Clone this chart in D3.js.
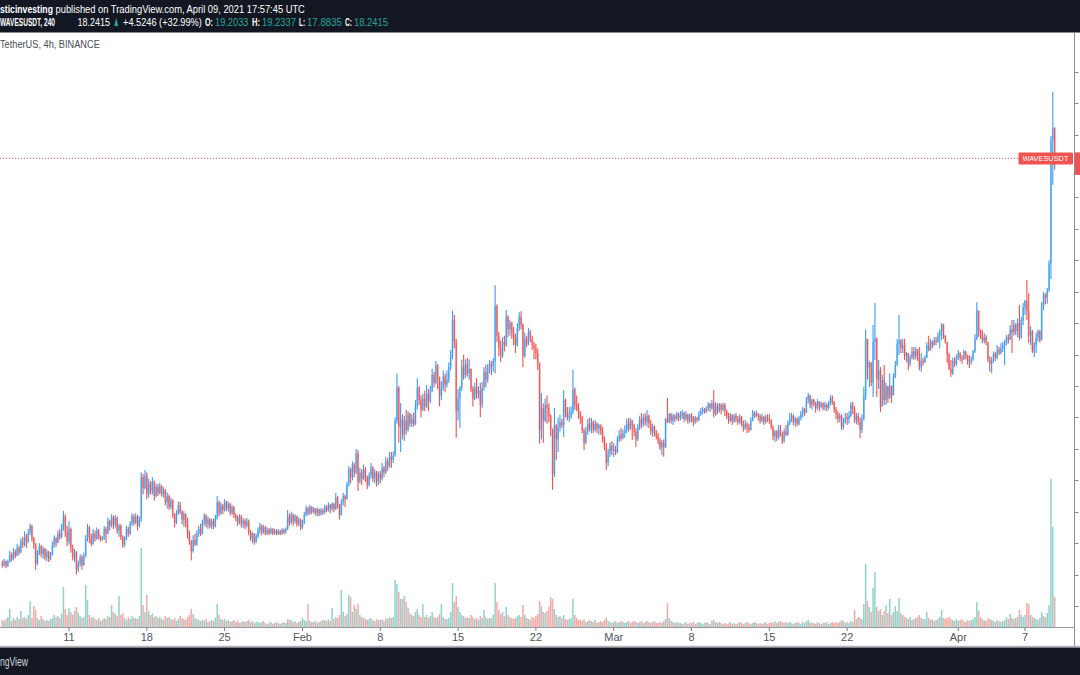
<!DOCTYPE html>
<html>
<head>
<meta charset="utf-8">
<script src="https://d3js.org/d3.v7.min.js"></script>
<style>
  html, body { margin: 0; padding: 0; background: #fff; overflow: hidden; }
</style>
</head>
<body>
<div id="chart"></div>
<script>
// WAVESUSDT 4h candles, Binance, 5 Jan 2021 00:00 UTC -> 9 Apr 2021 16:00 UTC
const startTime = Date.UTC(2021, 0, 5, 0);
const firstOpen = 5.35;

// one line per day, six 4h candles each
const janClose = [
  5.30,5.42,5.28,5.40,5.62,5.50,
  5.72,5.60,5.85,5.70,6.05,5.95,
  6.20,6.05,6.35,6.55,6.15,5.95,
  5.35,5.70,5.90,5.65,5.82,5.55,
  5.72,5.50,5.65,5.95,6.15,6.00,
  6.30,6.20,6.55,6.85,6.35,6.05,
  6.45,5.85,5.55,5.70,5.15,5.35,
  5.55,5.30,5.60,6.15,6.50,6.20,
  5.98,6.30,6.15,6.40,6.20,6.12,
  6.18,6.45,6.30,6.70,6.55,6.82,
  6.60,6.80,6.40,6.55,6.20,5.95,
  6.15,6.45,6.30,6.62,6.85,6.65,
  6.85,6.55,6.75,8.10,7.75,8.15,
  7.55,7.90,7.65,7.95,7.50,7.80,
  7.60,7.82,7.55,7.70,7.30,7.50,
  7.15,7.35,6.90,6.65,6.95,7.20,
  7.00,6.75,6.92,6.60,6.25,6.05,
  5.75,6.10,5.95,6.30,6.45,6.30,
  6.65,6.88,6.60,6.75,6.55,6.70,
  6.55,6.80,7.30,6.95,7.20,7.05,
  7.30,7.10,7.25,6.95,7.15,6.90,
  6.80,6.65,6.85,6.60,6.72,6.55,
  6.70,6.35,6.15,6.30,6.05,6.22,
  6.40,6.55,6.35,6.50,6.30,6.42,
  6.32,6.45,6.30,6.40,6.28,6.38,
  6.30,6.42,6.35,6.45,6.85,6.65,
  6.90,6.70,6.85,6.60,6.75,6.50
];
const janHigh = [
  5.45,5.50,5.45,5.48,5.75,5.70,
  5.85,5.80,5.98,5.92,6.15,6.20,
  6.38,6.30,6.45,6.62,6.58,6.20,
  6.00,5.78,6.00,5.95,5.90,5.85,
  5.80,5.75,5.72,6.05,6.25,6.20,
  6.40,6.45,6.62,7.02,6.92,6.55,
  6.70,6.50,5.95,5.82,5.75,5.45,
  5.65,5.62,5.70,6.25,6.62,6.55,
  6.30,6.45,6.40,6.50,6.45,6.25,
  6.22,6.55,6.52,6.82,6.75,6.92,
  6.88,6.90,6.85,6.62,6.60,6.25,
  6.22,6.55,6.52,6.70,6.95,6.92,
  6.95,6.90,6.85,8.25,8.20,8.33,
  8.25,8.05,7.98,8.10,8.00,7.90,
  7.88,7.92,7.85,7.78,7.72,7.62,
  7.55,7.45,7.40,6.95,7.05,7.32,
  7.32,7.05,7.02,6.95,6.80,6.40,
  6.10,6.25,6.30,6.40,6.55,6.62,
  6.75,6.95,6.92,6.85,6.80,6.78,
  6.78,6.90,7.50,7.35,7.30,7.25,
  7.40,7.35,7.32,7.28,7.22,7.18,
  6.95,6.88,6.92,6.90,6.80,6.78,
  6.80,6.75,6.42,6.35,6.32,6.30,
  6.50,6.65,6.60,6.58,6.55,6.50,
  6.48,6.50,6.48,6.46,6.44,6.45,
  6.42,6.48,6.46,6.50,7.06,6.95,
  7.00,6.95,6.92,6.88,6.82,6.78
];
const janLow = [
  5.22,5.25,5.20,5.24,5.38,5.42,
  5.45,5.52,5.58,5.62,5.68,5.85,
  5.90,5.85,6.00,6.25,6.05,5.82,
  5.15,5.30,5.62,5.55,5.50,5.45,
  5.42,5.40,5.45,5.60,5.85,5.88,
  6.05,6.10,6.15,6.40,6.20,5.90,
  5.95,5.70,5.45,5.40,5.00,5.08,
  5.25,5.15,5.28,5.55,6.05,6.00,
  5.90,5.95,6.05,6.10,6.12,6.05,
  6.08,6.10,6.00,6.28,6.40,6.50,
  6.45,6.50,6.30,6.20,6.10,5.85,
  5.88,6.10,6.20,6.25,6.55,6.55,
  6.60,6.40,6.50,6.68,7.55,7.70,
  7.40,7.45,7.55,7.55,7.35,7.45,
  7.50,7.55,7.48,7.45,7.20,7.10,
  7.05,7.08,6.80,6.50,6.60,6.90,
  6.92,6.60,6.52,6.50,6.15,5.95,
  5.45,5.70,5.90,5.92,6.20,6.22,
  6.28,6.55,6.50,6.45,6.48,6.45,
  6.45,6.50,6.75,6.85,6.90,6.92,
  7.00,7.02,7.00,6.88,6.90,6.80,
  6.70,6.55,6.60,6.50,6.48,6.45,
  6.50,6.25,6.08,6.00,5.95,6.00,
  6.15,6.30,6.25,6.30,6.25,6.26,
  6.25,6.28,6.25,6.27,6.25,6.26,
  6.25,6.27,6.28,6.30,6.42,6.55,
  6.60,6.55,6.62,6.52,6.55,6.42
];
const janVolume = [
  420,360,480,600,1080,360,
  540,420,600,480,960,540,
  600,480,720,1560,540,1260,
  1020,540,420,660,480,360,
  420,360,480,540,720,600,
  660,540,780,2400,1080,720,
  1140,900,720,960,1200,840,
  660,540,600,2520,1620,720,
  540,600,480,420,540,360,
  420,540,480,660,600,1320,
  900,780,660,1860,720,840,
  540,420,600,480,660,540,
  540,480,660,4740,1320,900,
  1920,960,720,840,600,660,
  540,600,480,420,660,540,
  600,480,420,540,360,480,
  660,540,480,420,600,720,
  1080,780,540,480,420,360,
  420,360,480,300,360,420,
  360,540,1380,720,480,420,
  480,360,420,300,360,420,
  300,360,240,300,360,300,
  360,420,300,360,240,300,
  300,240,300,360,240,180,
  240,300,180,240,300,240,
  180,240,300,240,480,420,
  420,300,360,240,300,360
];

const febClose = [
  6.65,6.90,7.10,6.95,7.15,7.00,
  7.10,6.95,7.08,6.92,7.05,6.98,
  7.15,7.05,7.22,7.10,7.25,7.08,
  7.45,7.20,6.90,7.30,7.50,7.40,
  7.85,8.35,8.10,8.50,8.25,8.85,
  7.95,8.25,8.05,8.35,8.10,7.85,
  8.15,8.40,8.05,8.25,7.95,8.20,
  8.05,8.40,8.25,8.60,8.45,8.75,
  8.65,8.80,9.90,10.95,9.70,9.95,
  9.45,9.90,9.60,10.10,9.80,9.95,
  9.80,10.35,10.95,10.55,10.25,10.60,
  10.35,10.75,10.50,10.85,11.35,11.10,
  11.65,11.25,10.70,10.95,11.30,11.05,
  11.20,11.60,11.95,13.10,12.40,10.20,
  10.60,10.95,11.60,11.35,11.70,11.40,
  11.55,10.90,10.60,10.95,10.75,10.85,
  10.40,10.95,11.45,11.20,11.55,11.70,
  11.65,11.80,13.55,12.60,12.20,11.95,
  12.40,12.30,13.20,12.80,13.00,12.70,
  12.55,12.30,12.85,13.20,12.95,11.95,
  12.50,12.35,12.70,12.50,12.30,12.20,
  12.05,11.70,9.60,10.30,9.90,10.40,
  10.30,10.05,9.60,8.20,9.75,9.30,
  9.70,9.85,9.75,10.55,10.15,10.00,
  10.05,10.20,10.90,10.40,10.30,10.15,
  10.00,9.60,9.20,9.55,9.80,9.65,
  9.85,9.60,9.80,9.65,9.75,9.55,
  9.30,9.05,8.55,8.85,9.10,8.95
];
const febHigh = [
  6.74,7.00,7.20,7.15,7.22,7.18,
  7.15,7.12,7.14,7.10,7.12,7.10,
  7.22,7.20,7.30,7.25,7.30,7.28,
  7.60,7.50,7.25,7.40,7.60,7.55,
  7.95,8.45,8.40,8.60,8.55,9.00,
  8.96,8.40,8.35,8.50,8.42,8.15,
  8.25,8.55,8.45,8.35,8.30,8.28,
  8.30,8.55,8.45,8.75,8.70,8.90,
  8.90,8.92,10.00,11.40,11.00,10.46,
  10.10,10.05,10.24,10.20,10.15,10.10,
  10.15,10.55,11.25,11.00,10.70,10.75,
  10.85,11.03,10.90,11.00,11.55,11.45,
  11.80,11.70,11.30,11.15,11.50,11.40,
  11.50,11.75,12.15,13.40,13.26,12.50,
  10.90,11.00,11.83,12.00,11.85,11.90,
  11.85,11.51,11.00,11.10,11.25,11.00,
  11.10,11.13,11.60,11.67,11.70,11.83,
  11.80,11.90,14.21,13.60,12.72,12.45,
  12.55,12.60,13.42,13.25,13.10,13.05,
  12.88,12.65,13.00,13.35,13.38,13.00,
  12.70,12.60,12.85,12.78,12.60,12.40,
  12.35,12.20,11.75,10.78,10.45,10.60,
  10.70,10.45,10.10,9.65,10.30,9.80,
  10.00,10.08,9.95,10.87,10.60,10.33,
  10.33,10.35,11.51,10.95,10.70,10.46,
  10.20,10.05,9.65,9.70,9.95,10.00,
  9.98,9.90,9.92,9.85,9.80,9.78,
  9.70,9.40,9.19,9.00,9.20,9.25
];
const febLow = [
  6.45,6.60,6.85,6.88,6.90,6.92,
  6.95,6.88,6.85,6.86,6.88,6.90,
  6.92,6.98,7.00,6.95,7.02,6.98,
  7.05,7.10,6.75,6.88,7.20,7.15,
  7.38,7.80,7.90,8.00,8.10,8.20,
  7.66,7.90,7.85,8.00,7.95,7.72,
  7.80,8.05,7.95,7.90,7.80,7.85,
  7.90,8.00,8.10,8.20,8.30,8.40,
  8.40,8.55,8.75,9.80,9.20,8.90,
  9.30,9.25,9.45,9.55,9.70,9.70,
  9.70,9.75,10.25,10.40,10.00,10.20,
  10.20,10.30,10.20,10.45,10.80,10.95,
  11.05,10.90,10.35,10.55,10.85,10.80,
  10.95,11.10,11.50,11.85,12.20,9.35,
  9.90,9.66,10.85,11.20,11.25,11.30,
  11.20,10.80,10.35,10.55,10.60,10.60,
  10.01,10.30,10.85,10.95,11.10,11.40,
  11.35,11.45,11.40,12.40,11.95,11.76,
  11.90,12.10,12.25,12.56,12.60,12.50,
  12.30,12.05,12.25,12.75,12.80,11.60,
  11.90,12.24,12.30,12.40,12.15,11.85,
  11.85,11.51,9.16,9.30,9.19,9.85,
  9.80,9.85,9.40,7.70,8.10,8.65,
  8.90,9.55,9.65,9.38,10.00,9.90,
  9.85,9.95,10.10,10.24,10.20,9.95,
  9.80,9.50,8.96,9.15,9.45,9.55,
  9.50,9.50,9.55,9.50,9.45,9.45,
  9.20,8.95,8.33,8.45,8.74,8.80
];
const febVolume = [
  540,420,360,1380,360,300,
  300,360,240,300,360,420,
  420,360,480,360,1140,480,
  600,540,720,2220,900,660,
  780,1920,1800,900,1320,1080,
  1380,720,600,540,480,420,
  480,540,420,360,480,420,
  420,480,360,540,480,600,
  540,600,2820,2580,2100,1680,
  1680,1860,1500,1140,840,720,
  660,900,1080,720,600,1380,
  600,720,540,660,900,600,
  540,600,780,1380,600,480,
  480,540,900,2640,1500,1860,
  1200,900,720,660,540,600,
  540,720,600,480,540,420,
  660,540,1020,600,480,540,
  540,720,2640,1500,1020,780,
  900,660,1200,720,600,540,
  480,540,660,720,600,1320,
  720,540,480,420,600,540,
  660,780,1560,1260,900,840,
  960,1200,1800,1680,1080,720,
  600,660,540,720,480,420,
  480,540,1680,720,540,420,
  420,360,480,300,360,420,
  360,300,420,240,300,360,
  300,420,540,360,300,240
];

const marClose = [
  9.00,8.90,9.30,9.45,9.35,9.50,
  9.60,9.80,9.65,9.90,9.75,9.55,
  9.30,9.70,9.95,9.80,10.00,9.85,
  10.05,9.80,9.55,9.70,9.50,9.40,
  9.25,9.05,9.20,9.05,9.95,9.85,
  10.10,9.90,10.05,9.95,10.12,9.98,
  10.05,10.15,9.95,10.10,9.90,10.05,
  10.00,9.85,9.98,9.92,10.10,10.20,
  10.25,10.18,10.30,10.42,10.30,10.45,
  10.10,10.35,10.20,10.40,10.25,10.40,
  10.20,10.05,9.90,10.08,9.88,10.05,
  9.95,9.85,10.02,9.80,9.65,9.78,
  9.70,9.60,9.90,10.15,10.05,10.12,
  10.05,9.90,10.02,9.85,10.00,9.95,
  9.90,9.70,9.40,9.55,9.35,9.60,
  9.45,9.25,9.55,9.45,9.80,9.95,
  10.05,9.85,9.95,9.80,9.98,10.12,
  10.25,10.15,10.55,10.70,10.40,10.55,
  10.45,10.30,10.50,10.35,10.45,10.32,
  10.40,10.30,10.45,10.62,10.48,10.25,
  10.10,9.95,10.05,9.70,9.85,10.00,
  9.95,10.05,10.40,10.25,9.90,10.05,
  9.85,9.60,9.95,10.70,12.50,11.60,
  11.75,11.10,12.40,12.50,11.20,11.50,
  10.35,11.20,10.55,11.00,10.60,11.00,
  10.70,11.30,11.65,12.35,12.45,12.20,
  12.30,11.95,12.05,11.70,11.90,12.10,
  11.95,12.15,11.85,11.60,11.80,11.75,
  11.90,12.30,12.15,12.40,12.30,12.45,
  12.40,12.60,12.75,12.95,12.60,12.40,
  12.00,11.55,11.40,11.80,11.70,11.90
];
const marHigh = [
  9.19,9.10,9.40,9.60,9.66,9.62,
  9.75,9.95,9.98,9.98,9.92,9.80,
  9.65,9.80,10.05,10.14,10.10,10.14,
  10.24,10.10,9.92,9.80,9.75,9.60,
  9.50,9.35,9.28,9.30,9.98,10.62,
  10.15,10.14,10.12,10.10,10.18,10.15,
  10.20,10.24,10.18,10.20,10.12,10.12,
  10.14,10.05,10.05,10.02,10.20,10.30,
  10.33,10.30,10.35,10.49,10.46,10.55,
  10.87,10.49,10.45,10.46,10.45,10.46,
  10.46,10.25,10.14,10.14,10.10,10.12,
  10.14,10.05,10.10,10.05,9.90,9.92,
  9.85,9.80,10.00,10.24,10.20,10.22,
  10.14,10.10,10.12,10.05,10.08,10.10,
  10.10,9.95,9.75,9.60,9.60,9.76,
  9.76,9.55,9.65,9.76,9.90,10.14,
  10.14,10.10,10.02,10.00,10.05,10.20,
  10.33,10.30,10.65,10.78,10.72,10.60,
  10.60,10.50,10.58,10.52,10.50,10.48,
  10.50,10.45,10.52,10.71,10.70,10.52,
  10.33,10.20,10.14,10.10,9.98,10.14,
  10.14,10.20,10.49,10.50,10.35,10.14,
  10.14,10.00,10.10,10.97,12.80,12.40,
  11.80,11.60,12.94,13.64,12.55,11.83,
  11.60,11.35,11.67,11.10,11.00,11.40,
  11.02,11.40,11.80,12.50,13.26,12.50,
  12.50,12.50,12.08,11.90,12.00,12.24,
  12.24,12.24,12.18,12.24,12.05,11.90,
  11.98,12.40,12.60,12.50,12.45,12.56,
  12.56,12.70,12.80,13.00,12.98,12.62,
  12.30,12.05,11.83,11.90,11.92,12.00
];
const marLow = [
  8.74,8.80,8.85,9.22,9.25,9.30,
  9.35,9.50,9.55,9.60,9.28,9.40,
  9.06,9.25,9.60,9.65,9.70,9.75,
  9.70,9.66,9.45,9.38,9.40,9.30,
  9.15,8.96,8.80,8.75,9.03,9.82,
  9.82,9.80,9.76,9.85,9.90,9.88,
  9.90,9.95,9.85,9.90,9.80,9.82,
  9.85,9.72,9.80,9.85,9.88,10.05,
  10.10,10.12,10.14,10.20,10.18,10.25,
  10.00,10.05,10.10,10.15,10.10,10.20,
  10.05,9.95,9.80,9.85,9.76,9.82,
  9.85,9.76,9.80,9.72,9.55,9.60,
  9.50,9.52,9.58,9.88,9.98,10.00,
  9.90,9.80,9.85,9.76,9.80,9.85,
  9.80,9.62,9.28,9.22,9.25,9.30,
  9.40,9.15,9.20,9.40,9.42,9.75,
  9.85,9.75,9.70,9.72,9.75,9.90,
  10.00,10.05,10.14,10.45,10.30,10.25,
  10.35,10.15,10.25,10.20,10.28,10.22,
  10.22,10.20,10.25,10.38,10.40,10.15,
  9.95,9.82,9.85,9.60,9.62,9.80,
  9.76,9.80,10.00,10.10,9.82,9.78,
  9.76,9.34,9.50,9.90,10.55,11.20,
  10.97,11.00,10.65,11.83,10.65,10.90,
  10.17,10.40,10.40,10.40,10.46,10.60,
  10.46,10.75,11.25,11.70,11.99,12.05,
  12.05,11.83,11.76,11.50,11.62,11.85,
  11.83,11.85,11.80,11.50,11.45,11.65,
  11.73,11.88,12.10,12.12,12.20,12.28,
  12.30,12.38,12.20,12.46,12.50,12.35,
  11.73,11.50,11.29,11.35,11.60,11.65
];
const marVolume = [
  300,360,240,300,360,300,
  240,300,360,240,300,360,
  300,240,300,360,240,300,
  360,300,240,300,360,240,
  240,300,240,360,480,1440,
  540,360,300,240,300,240,
  240,180,240,300,180,240,
  240,300,180,240,300,240,
  180,240,300,240,180,360,
  420,300,240,300,240,180,
  240,180,240,300,180,240,
  180,240,300,240,180,240,
  300,240,180,240,300,240,
  180,240,180,240,300,180,
  240,300,240,360,240,300,
  360,300,240,300,240,300,
  240,180,240,300,240,180,
  300,240,360,420,300,240,
  240,180,300,240,180,240,
  240,300,180,240,300,240,
  300,240,300,420,360,240,
  300,240,360,300,1020,480,
  600,540,480,1380,3780,1560,
  1200,900,2340,3300,1200,960,
  1080,720,960,1320,840,1680,
  720,900,1260,960,1740,840,
  720,600,540,480,600,420,
  480,540,600,720,540,480,
  480,900,540,420,480,360,
  420,480,600,1020,540,480,
  540,600,480,420,360,480
];

const aprClose = [
  12.05,11.90,11.85,12.10,11.95,11.80,
  11.75,11.85,12.10,12.50,13.40,12.75,
  12.60,12.45,12.55,12.40,11.85,11.70,
  11.85,12.02,11.90,12.15,12.05,12.20,
  12.30,12.35,12.55,12.48,12.80,12.70,
  12.95,12.75,13.00,12.55,13.10,13.50,
  13.70,13.40,12.60,12.75,12.10,12.30,
  12.55,12.75,12.45,13.55,13.90,13.80,
  14.05,14.90,18.80,19.2033,18.2415
];
const aprHigh = [
  12.15,12.08,11.98,12.15,12.12,12.00,
  11.98,11.95,12.15,12.65,13.67,13.26,
  12.80,12.78,12.68,12.62,12.30,11.95,
  11.92,12.10,12.08,12.30,12.25,12.36,
  12.40,12.46,12.62,12.65,12.94,13.10,
  13.10,13.00,13.15,13.58,13.20,13.64,
  13.74,14.37,13.96,12.90,12.78,12.40,
  12.70,12.80,12.78,13.67,14.00,13.95,
  14.12,15.00,18.95,20.35,19.2337
];
const aprLow = [
  11.83,11.78,11.70,11.83,11.85,11.68,
  11.57,11.68,11.80,12.05,12.46,12.56,
  12.50,12.37,12.35,12.30,11.76,11.45,
  11.41,11.75,11.80,11.85,11.98,12.00,
  12.08,11.67,12.30,12.35,12.46,12.05,
  12.60,12.62,12.55,12.46,12.50,12.94,
  13.26,13.10,12.37,12.30,12.05,11.92,
  12.05,12.42,12.38,12.45,13.42,13.60,
  13.62,14.00,14.40,17.40,17.8835
];
const aprVolume = [
  360,420,480,360,300,420,
  360,420,480,600,1500,960,
  600,480,420,360,540,480,
  420,360,300,420,360,300,
  360,420,600,480,780,540,
  480,540,600,1020,720,600,
  720,1440,1380,720,600,540,
  480,420,540,900,660,600,
  840,1320,8880,6000,1800
];

// time axis ticks
const tickDates = [
  [2021, 0, 11], [2021, 0, 18], [2021, 0, 25], [2021, 1, 1], [2021, 1, 8],
  [2021, 1, 15], [2021, 1, 22], [2021, 2, 1], [2021, 2, 8], [2021, 2, 15],
  [2021, 2, 22], [2021, 3, 1], [2021, 3, 7]
];
const tickLabels = ["11", "18", "25", "Feb", "8", "15", "22", "Mar", "8", "15", "22", "Apr", "7"];
const priceTicks = d3.range(4, 22);
const lastPrice = 18.2415;

// ---------------------------------------------------------------
const W = 1080, H = 675;
const plotTop = 33, plotBottom = 627, axisX = 1074.5;
const upColor = "#3d9cf0", downColor = "#ef5350";
const volUp = "#26a69a", volDown = "#ef5350";
const teal = "#26a69a";
const FONT = '"Liberation Sans", "DejaVu Sans", Arial, sans-serif';

const closes = janClose.concat(febClose, marClose, aprClose);
const highs = janHigh.concat(febHigh, marHigh, aprHigh);
const lows = janLow.concat(febLow, marLow, aprLow);
const volumes = janVolume.concat(febVolume, marVolume, aprVolume);

const candles = closes.map((c, i) => {
  const o = i ? closes[i - 1] : firstOpen;
  return {
    t: new Date(startTime + i * 4 * 3600 * 1000),
    o, c,
    h: Math.max(highs[i] ?? c, o, c),
    l: Math.min(lows[i] ?? c, o, c),
    v: volumes[i] ?? 0
  };
});

const x = d3.scaleUtc()
  .domain([new Date(Date.UTC(2021, 0, 11)), new Date(Date.UTC(2021, 3, 7))])
  .range([69, 1025]);
const y = d3.scaleLinear().domain([4, 21]).range([606, 71.7]);
const vy = d3.scaleLinear().domain([0, 9000]).range([plotBottom, plotBottom - 150]);

const svg = d3.select("#chart").append("svg")
  .attr("width", W).attr("height", H)
  .attr("viewBox", [0, 0, W, H])
  .style("font-family", FONT);

// squeeze a text horizontally so it covers exactly w pixels
function fitText(sel, x0, y0, w) {
  sel.each(function () {
    const n = this.getComputedTextLength() || w;
    d3.select(this).attr("transform", `translate(${x0},${y0}) scale(${w / n},1)`);
  });
}

svg.append("rect").attr("width", W).attr("height", H).attr("fill", "#ffffff");

svg.append("clipPath").attr("id", "plot")
  .append("rect").attr("x", 0).attr("y", plotTop).attr("width", axisX).attr("height", plotBottom - plotTop);

const plot = svg.append("g").attr("clip-path", "url(#plot)");

// volume overlay
plot.append("g").selectAll("rect")
  .data(candles)
  .join("rect")
  .attr("x", d => x(d.t) - 0.75)
  .attr("width", 1.5)
  .attr("y", d => vy(d.v))
  .attr("height", d => plotBottom - vy(d.v))
  .attr("fill", d => d.c >= d.o ? volUp : volDown)
  .attr("fill-opacity", 0.5);

// candles: pale body plus a darker wick line
const cg = plot.append("g");
cg.selectAll("rect.body")
  .data(candles)
  .join("rect")
  .attr("class", "body")
  .attr("x", d => x(d.t) - 0.9)
  .attr("width", 1.8)
  .attr("y", d => y(Math.max(d.o, d.c)))
  .attr("height", d => Math.max(1, Math.abs(y(d.o) - y(d.c))))
  .attr("fill", d => d.c >= d.o ? upColor : downColor)
  .attr("fill-opacity", 0.55);
cg.selectAll("rect.wick")
  .data(candles)
  .join("rect")
  .attr("class", "wick")
  .attr("x", d => x(d.t) - 0.55)
  .attr("width", 1.1)
  .attr("y", d => y(d.h))
  .attr("height", d => Math.max(1, y(d.l) - y(d.h)))
  .attr("fill", d => d.c >= d.o ? upColor : downColor);

// last price line + label
const ly = y(lastPrice);
svg.append("line")
  .attr("x1", 0).attr("x2", 1018).attr("y1", ly).attr("y2", ly)
  .attr("stroke", downColor).attr("stroke-width", 1)
  .attr("stroke-dasharray", "1,2");

svg.append("rect")
  .attr("x", 1018.5).attr("y", ly - 6).attr("width", 54.5).attr("height", 12)
  .attr("rx", 1).attr("fill", downColor);
svg.append("text")
  .attr("font-size", 8).attr("fill", "#ffffff")
  .text("WAVESUSDT")
  .call(fitText, 1022.5, ly + 3, 46);

// price axis (labels fall outside the crop)
svg.append("line")
  .attr("x1", axisX).attr("x2", axisX).attr("y1", plotTop).attr("y2", 647)
  .attr("stroke", "#8a8d96").attr("stroke-width", 1);
svg.append("g").selectAll("line")
  .data(priceTicks)
  .join("line")
  .attr("x1", axisX).attr("x2", axisX + 4)
  .attr("y1", d => Math.round(y(d)) + 0.5).attr("y2", d => Math.round(y(d)) + 0.5)
  .attr("stroke", "#8a8d96");
svg.append("rect")
  .attr("x", axisX + 0.5).attr("y", ly - 6).attr("width", 10).attr("height", 22.5)
  .attr("fill", downColor);

// time axis
svg.append("line")
  .attr("x1", 0).attr("x2", axisX).attr("y1", plotBottom + 0.5).attr("y2", plotBottom + 0.5)
  .attr("stroke", "#9598a1").attr("stroke-width", 1);
const ticks = tickDates.map((d, i) => ({ t: new Date(Date.UTC(d[0], d[1], d[2])), label: tickLabels[i] }));
const tg = svg.append("g").selectAll("g")
  .data(ticks)
  .join("g")
  .attr("transform", d => `translate(${x(d.t)},0)`);
tg.append("line")
  .attr("y1", plotBottom + 1).attr("y2", plotBottom + 4)
  .attr("stroke", "#787b86");
tg.append("text")
  .attr("y", 641)
  .attr("text-anchor", "middle")
  .attr("font-size", 11)
  .attr("fill", "#50535e")
  .text(d => d.label);

svg.append("line")
  .attr("x1", 0).attr("x2", W).attr("y1", 646.5).attr("y2", 646.5)
  .attr("stroke", "#b2b5be").attr("stroke-width", 1.5);

// footer + header bands
svg.append("rect").attr("x", 0).attr("y", 647.5).attr("width", W).attr("height", H - 647.5).attr("fill", "#131722");
svg.append("text")
  .attr("font-size", 12.5).attr("fill", "#d1d4dc")
  .text("ngView")
  .call(fitText, 0, 666, 28);

svg.append("rect").attr("x", 0).attr("y", 0).attr("width", W).attr("height", 32.5).attr("fill", "#131722");

const headerParts = [
  { text: "sticinvesting", x: 0, w: 53, y: 13, bold: true, fill: "#ffffff" },
  { text: "published on TradingView.com, April 09, 2021 17:57:45 UTC", x: 55.5, w: 249.5, y: 13, fill: "#ffffff" },
  { text: "WAVESUSDT, 240", x: 0, w: 55, y: 26, bold: true, fill: "#ffffff" },
  { text: "18.2415", x: 77.5, w: 32.5, y: 26, fill: "#ffffff" },
  { text: "\u25B2", x: 113, w: 6.5, y: 26, fill: teal },
  { text: "+4.5246 (+32.99%)", x: 123, w: 79, y: 26, fill: "#ffffff" },
  { text: "O:", x: 205, w: 8, y: 26, bold: true, fill: "#ffffff" },
  { text: "19.2033", x: 215, w: 33.5, y: 26, fill: teal },
  { text: "H:", x: 252, w: 8, y: 26, bold: true, fill: "#ffffff" },
  { text: "19.2337", x: 262, w: 34, y: 26, fill: teal },
  { text: "L:", x: 299, w: 6, y: 26, bold: true, fill: "#ffffff" },
  { text: "17.8835", x: 307, w: 35, y: 26, fill: teal },
  { text: "C:", x: 345, w: 7, y: 26, bold: true, fill: "#ffffff" },
  { text: "18.2415", x: 354, w: 34, y: 26, fill: teal }
];
svg.append("g").selectAll("text")
  .data(headerParts)
  .join("text")
  .attr("font-size", d => d.text === "\u25B2" ? 14 : 11.5)
  .attr("font-weight", d => d.bold ? "bold" : "normal")
  .attr("fill", d => d.fill)
  .text(d => d.text)
  .each(function (d) { d3.select(this).call(fitText, d.x, d.y, d.w); });

svg.append("text")
  .attr("font-size", 11.5).attr("fill", "#4a4d57")
  .text("TetherUS, 4h, BINANCE")
  .call(fitText, 0, 48, 100);
</script>
</body>
</html>
